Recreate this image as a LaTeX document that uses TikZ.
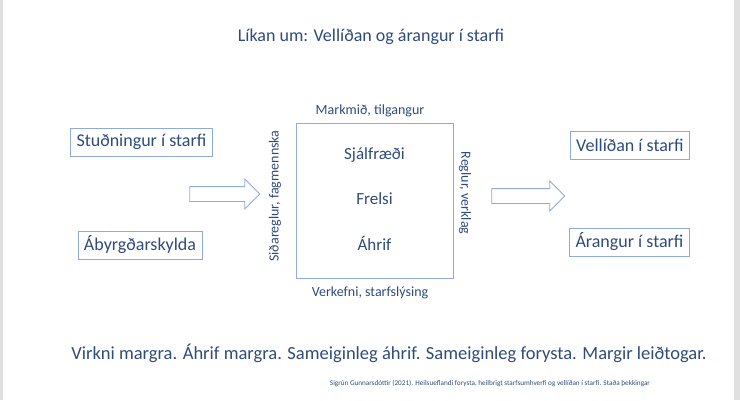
\documentclass[tikz,border=0pt]{standalone}
\usepackage{fontspec}
\setmainfont{Carlito}
\usetikzlibrary{shapes.arrows}
\definecolor{navy}{RGB}{47,75,125}
\definecolor{lblue}{RGB}{143,170,220}
\definecolor{edge}{RGB}{224,224,224}
\tikzset{
  factor/.style={draw=lblue,line width=0.9pt,text=navy,font=\fontsize{18}{20}\selectfont,inner xsep=6pt,minimum height=28pt},
  side/.style={text=navy,font=\fontsize{14}{16}\selectfont,inner sep=1pt},
  blockarrow/.style={draw=lblue,line width=0.8pt,single arrow,inner xsep=0pt,inner ysep=7pt,single arrow head extend=7.5pt,single arrow tip angle=90,single arrow head indent=0pt}
}
\begin{document}
\begin{tikzpicture}[x=1pt,y=-1pt]
\useasboundingbox (0,0) rectangle (740,400);
\fill[edge] (0,0) rectangle (3,400);
\fill[edge] (734,0) rectangle (740,400);
\node[text=navy,font=\fontsize{18}{20}\selectfont] (title) at (371,37) {Líkan um: Vellíðan og árangur í starfi};
% left side
\node[factor] (studningur) at (141.5,142) {Stuðningur í starfi};
\node[factor] (abyrgd) at (140,245) {Ábyrgðarskylda};
\node[blockarrow,minimum height=70pt] (inarrow) at (221,194) {};
% middle
\node[draw=lblue,line width=0.9pt,minimum width=157pt,minimum height=155pt] (core) at (374.5,200.5) {};
\node[text=navy,font=\fontsize{17}{20}\selectfont] (sjalf) at (374.5,155) {Sjálfræði};
\node[text=navy,font=\fontsize{17}{20}\selectfont] (frelsi) at (374.5,199) {Frelsi};
\node[text=navy,font=\fontsize{17}{20}\selectfont] (ahrif) at (374.5,243) {Áhrif};
\node[side] (markmid) at (370,111) {Markmið, tilgangur};
\node[side] (verkefni) at (370,293) {Verkefni, starfslýsing};
\node[side,rotate=90] (sidareglur) at (275,196) {Siðareglur, fagmennska};
\node[side,rotate=-90] (reglur) at (465,193) {Reglur, verklag};
% right side
\node[blockarrow,minimum height=73pt] (outarrow) at (524.5,196) {};
\node[factor] (vellidan) at (630,145.5) {Vellíðan í starfi};
\node[factor] (arangur) at (629.5,242) {Árangur í starfi};
% bottom
\node[text=navy,font=\fontsize{18.5}{22}\selectfont] (virkni) at (389,353) {Virkni margra. Áhrif margra. Sameiginleg áhrif. Sameiginleg forysta. Margir leiðtogar.};
\node[text=navy,font=\fontsize{7.2}{9}\selectfont] (heimild) at (490,383) {Sigrún Gunnarsdóttir (2021). Heilsueflandi forysta, heilbrigt starfsumhverfi og vellíðan í starfi. Staða þekkingar};
\end{tikzpicture}
\end{document}
